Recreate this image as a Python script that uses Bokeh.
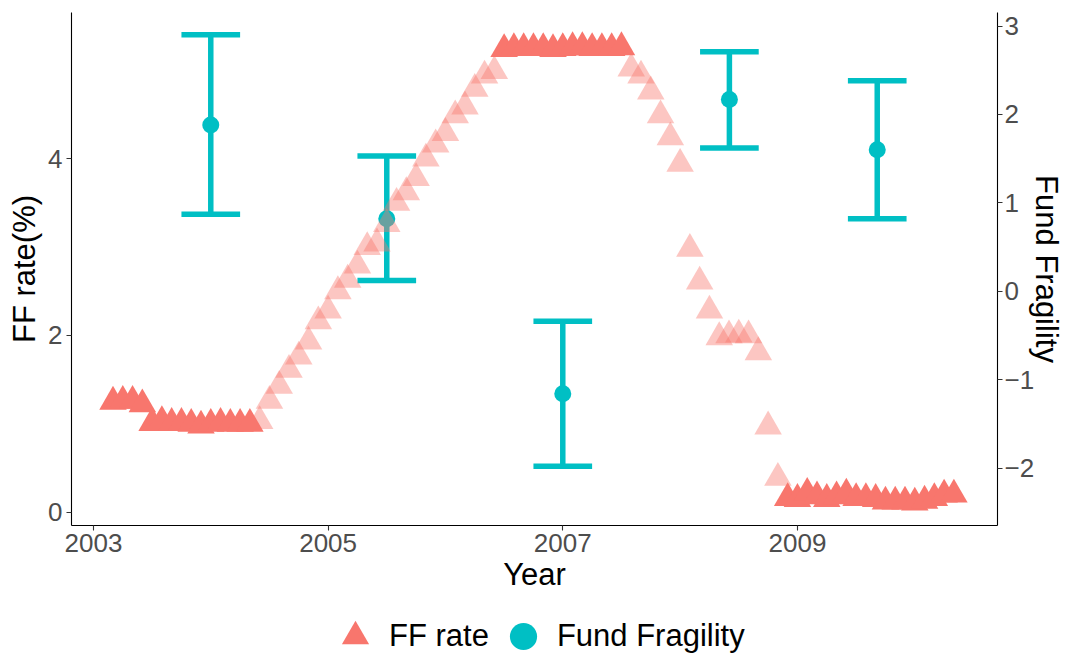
import numpy as np
import pandas as pd
from bokeh.plotting import figure
from bokeh.layouts import column
from bokeh.models import (Range1d, LinearAxis, FixedTicker, Legend, LegendItem,
                          ColumnDataSource)
from bokeh.embed import file_html
from bokeh.resources import INLINE

# ------------------------------------------------------------------ data
ff_first_month = "2003-03"
ff_rate = [
    # 2003 Mar-Dec
    1.25, 1.26, 1.26, 1.22, 1.01, 1.03, 1.01, 1.01, 1.00, 0.98,
    # 2004
    1.00, 1.01, 1.00, 1.00, 1.00, 1.03, 1.26, 1.43, 1.61, 1.76, 1.93, 2.16,
    # 2005
    2.28, 2.50, 2.63, 2.79, 3.00, 3.04, 3.26, 3.50, 3.62, 3.78, 4.00, 4.16,
    # 2006
    4.29, 4.49, 4.59, 4.79, 4.94, 4.99, 5.24, 5.25, 5.25, 5.25, 5.25, 5.24,
    # 2007
    5.25, 5.26, 5.26, 5.25, 5.25, 5.25, 5.26, 5.02, 4.94, 4.76, 4.49, 4.24,
    # 2008
    3.94, 2.98, 2.61, 2.28, 1.98, 2.00, 2.01, 2.00, 1.81, 0.97, 0.39, 0.16,
    # 2009
    0.15, 0.22, 0.18, 0.15, 0.18, 0.21, 0.16, 0.16, 0.15, 0.12, 0.12, 0.12,
    # 2010 Jan-May
    0.11, 0.13, 0.16, 0.20, 0.20,
]
# periods of unchanged policy (drawn solid)
steady_periods = [("2003-03", "2004-05"), ("2006-07", "2007-07"), ("2008-12", "2010-05")]

frag_year = [2004.0, 2005.5, 2007.0, 2008.42, 2009.68]
frag_mean = [1.88, 0.82, -1.16, 2.17, 1.60]
frag_low = [0.87, 0.12, -1.98, 1.62, 0.82]
frag_high = [2.90, 1.53, -0.34, 2.71, 2.38]

x_ticks = [2003, 2005, 2007, 2009]
ff_ticks = [0, 2, 4]
frag_ticks = [-2, -1, 0, 1, 2, 3]
SEC_OFFSET = 2.5  # Fund Fragility = FF axis - 2.5

# ------------------------------------------------------------------ derived
RED = "#F8766D"
CYAN = "#00BFC4"
FONT = "Liberation Sans"

months = pd.period_range(ff_first_month, periods=len(ff_rate), freq="M")
t = np.array([m.year + (m.month - 1) / 12 for m in months])
ff = np.array(ff_rate)
steady = np.zeros(len(ff), dtype=bool)
for a, b in steady_periods:
    steady |= (months >= pd.Period(a, "M")) & (months <= pd.Period(b, "M"))

X0, X1 = 2002.813, 2010.705
Y0, Y1 = -0.15, 5.653

W = 1067
H_MAIN = 605
H_LEG = 656 - H_MAIN

p = figure(width=W, height=H_MAIN, x_range=Range1d(X0, X1), y_range=Range1d(Y0, Y1),
           output_backend="svg", toolbar_location=None,
           min_border_top=12, min_border_bottom=80, min_border_left=71, min_border_right=0)
p.extra_y_ranges = {"frag": Range1d(Y0 - SEC_OFFSET, Y1 - SEC_OFFSET)}
p.xgrid.visible = False
p.ygrid.visible = False
p.outline_line_color = None
p.background_fill_color = "white"

# error bars + means (secondary axis)
fx = np.array(frag_year)
cap = 0.25
src_f = ColumnDataSource(dict(x=fx, xl=fx - cap, xr=fx + cap, m=frag_mean,
                              lo=frag_low, hi=frag_high))
p.segment("x", "lo", "x", "hi", source=src_f, line_color=CYAN, line_width=5.5,
          line_cap="butt", y_range_name="frag")
p.segment("xl", "hi", "xr", "hi", source=src_f, line_color=CYAN, line_width=5.5,
          line_cap="butt", y_range_name="frag")
p.segment("xl", "lo", "xr", "lo", source=src_f, line_color=CYAN, line_width=5.5,
          line_cap="butt", y_range_name="frag")
p.scatter("x", "m", source=src_f, marker="circle", size=17, fill_color=CYAN,
          line_color=None, y_range_name="frag")

# FF rate triangles
TRI = 27.5
p.scatter(t[~steady], ff[~steady], marker="triangle", size=TRI, fill_color=RED,
          fill_alpha=0.42, line_color=None)
p.scatter(t[steady], ff[steady], marker="triangle", size=TRI, fill_color=RED,
          line_color=None)

# axes
right = LinearAxis(y_range_name="frag", axis_label="Fund Fragility")
p.add_layout(right, "right")
p.xaxis.axis_label = "Year"
p.yaxis[0].axis_label = "FF rate(%)"
p.xaxis.ticker = FixedTicker(ticks=x_ticks)
p.yaxis[0].ticker = FixedTicker(ticks=ff_ticks)
right.ticker = FixedTicker(ticks=frag_ticks)
right.major_label_overrides = {v: str(v).replace("-", "\u2212") for v in frag_ticks if v < 0}

for ax in [p.xaxis[0], p.yaxis[0], right]:
    ax.axis_line_color = "black"
    ax.axis_line_width = 1.1
    ax.major_tick_line_color = "#333333"
    ax.major_tick_line_width = 1.1
    ax.major_tick_out = 5
    ax.major_tick_in = 0
    ax.minor_tick_line_color = None
    ax.major_label_text_font = FONT
    ax.major_label_text_font_size = "26px"
    ax.major_label_text_color = "#4D4D4D"
    ax.major_label_standoff = 4
    ax.axis_label_text_font = FONT
    ax.axis_label_text_font_size = "31px"
    ax.axis_label_text_font_style = "normal"
    ax.axis_label_text_color = "black"
    ax.axis_label_standoff = 3
p.xaxis.major_label_standoff = 3
p.xaxis.axis_label_standoff = 2
right.major_label_standoff = 2
right.axis_label_standoff = -8
right.axis_label_text_line_height = 0.8

# ------------------------------------------------------------------ legend strip
leg = figure(width=W, height=H_LEG, output_backend="svg", toolbar_location=None,
             x_axis_type=None, y_axis_type=None, min_border=0,
             x_range=Range1d(0, 1), y_range=Range1d(0, 1))
leg.outline_line_color = None
leg.xgrid.visible = False
leg.ygrid.visible = False
# key-only renderers (no data drawn)
k_tri = leg.scatter(x=[np.nan], y=[np.nan], marker="triangle", fill_color=RED, line_color=None)
k_circ = leg.scatter(x=[np.nan], y=[np.nan], marker="circle", fill_color=CYAN, line_color=None)
legend = Legend(items=[LegendItem(label="FF rate", renderers=[k_tri]),
                       LegendItem(label="Fund Fragility", renderers=[k_circ])],
                orientation="horizontal", location=(250, -14),
                glyph_width=68, glyph_height=68, label_standoff=0, spacing=0,
                padding=0, margin=0, border_line_color=None,
                background_fill_alpha=0, label_text_font=FONT,
                label_text_font_size="31px", label_text_color="black")
leg.add_layout(legend)

open("out.html", "w").write(file_html(column(p, leg, spacing=0), INLINE))
